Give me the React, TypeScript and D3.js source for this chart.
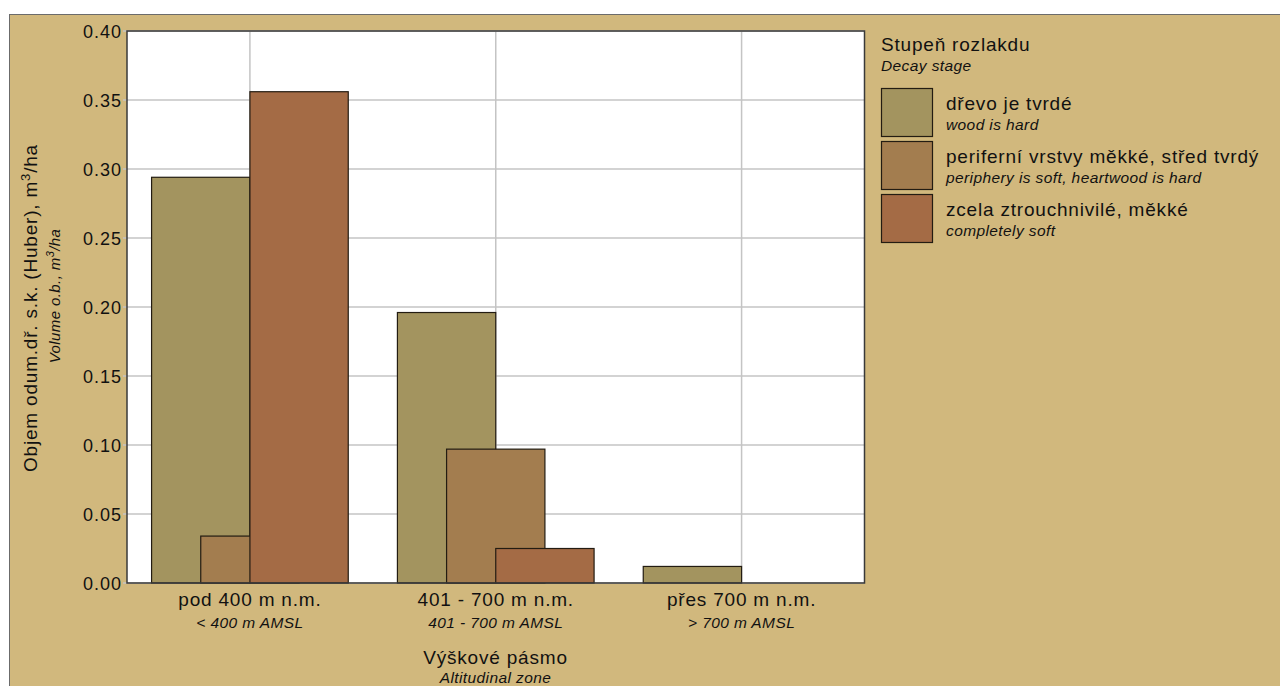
import React from "react";
import * as d3 from "d3";

const categories = ["pod 400 m n.m.", "401 - 700 m n.m.", "přes 700 m n.m."];
const categoriesEn = ["< 400 m AMSL", "401 - 700 m AMSL", "> 700 m AMSL"];
const seriesNames = ["dřevo je tvrdé", "periferní vrstvy měkké, střed tvrdý", "zcela ztrouchnivilé, měkké"];
const seriesNamesEn = ["wood is hard", "periphery is soft, heartwood is hard", "completely soft"];
const seriesColors = ["#A3945F", "#A37D4F", "#A46B45"];
const hardValues = [0.294, 0.196, 0.012];
const peripheryValues = [0.034, 0.097, 0];
const softValues = [0.356, 0.025, 0];
const yTicks = [0, 0.05, 0.1, 0.15, 0.2, 0.25, 0.3, 0.35, 0.4];

const seriesValues = [hardValues, peripheryValues, softValues];

const FONT = "'Liberation Sans', Arial, sans-serif";
const BG = "#D1B87D";

export default function App() {
  const plotL = 127, plotR = 864.5, plotT = 31, plotB = 583;
  const x = d3.scaleBand<string>().domain(categories).range([plotL, plotR]).padding(0);
  const y = d3.scaleLinear().domain([0, 0.4]).range([plotB, plotT]);
  const bw = x.bandwidth() * 0.4;
  const inner = d3.scaleLinear().domain([0, 2]).range([-bw, 0]);
  const center = (c: string) => (x(c) as number) + x.bandwidth() / 2;

  const mainStyle = { fontFamily: FONT, fontSize: 19, letterSpacing: 0.8, fill: "#111" } as const;
  const italStyle = { fontFamily: FONT, fontSize: 15.5, fontStyle: "italic", letterSpacing: 0.4, fill: "#111" } as const;

  const legX = 881, legTop = 88, legStep = 53;

  return (
    <svg width={1280} height={686} style={{ position: "absolute", left: 0, top: 0, background: "#fff" }}>
      <rect x={9.5} y={14.5} width={1280} height={680} fill={BG} stroke="#6b6b6b" strokeWidth={1} />
      {/* plot area */}
      <rect x={plotL} y={plotT} width={plotR - plotL} height={plotB - plotT} fill="#fff" />
      {/* horizontal grid */}
      {yTicks.map((t) => (
        <line key={"g" + t} x1={plotL - 4} x2={plotR} y1={y(t)} y2={y(t)} stroke="#c4c4c4" strokeWidth={1.5} />
      ))}
      {/* vertical grid */}
      {categories.map((c) => (
        <line key={"v" + c} x1={center(c)} x2={center(c)} y1={plotT} y2={plotB} stroke="#c4c4c4" strokeWidth={1.5} />
      ))}
      {/* bars */}
      {seriesValues.map((vals, si) =>
        categories.map((c, ci) =>
          vals[ci] > 0 ? (
            <rect
              key={si + "-" + ci}
              x={center(c) + inner(si)}
              y={y(vals[ci])}
              width={bw}
              height={y(0) - y(vals[ci])}
              fill={seriesColors[si]}
              stroke="#231c12"
              strokeWidth={1.2}
            />
          ) : null
        )
      )}
      {/* frame */}
      <rect x={plotL} y={plotT} width={plotR - plotL} height={plotB - plotT} fill="none" stroke="#3a3a3a" strokeWidth={1.5} />
      {/* y tick labels */}
      {yTicks.map((t) => (
        <text key={"t" + t} x={122} y={y(t) + 6.5} textAnchor="end" style={{ fontFamily: FONT, fontSize: 18, letterSpacing: 1, fill: "#111" }}>
          {d3.format(".2f")(t)}
        </text>
      ))}
      {/* y title */}
      <text transform="translate(37,308) rotate(-90)" textAnchor="middle" style={mainStyle}>
        Objem odum.dř. s.k. (Huber), m<tspan dy={-7} fontSize={13}>3</tspan><tspan dy={7}>/ha</tspan>
      </text>
      <text transform="translate(60,296) rotate(-90)" textAnchor="middle" style={{ ...italStyle, fontSize: 15 }}>
        Volume o.b., m<tspan dy={-6} fontSize={11}>3</tspan><tspan dy={6}>/ha</tspan>
      </text>
      {/* x labels */}
      {categories.map((c, i) => (
        <g key={"xl" + c}>
          <text x={center(c)} y={605.5} textAnchor="middle" style={mainStyle}>{c}</text>
          <text x={center(c)} y={627.5} textAnchor="middle" style={italStyle}>{categoriesEn[i]}</text>
        </g>
      ))}
      <text x={495.5} y={664} textAnchor="middle" style={mainStyle}>Výškové pásmo</text>
      <text x={495.5} y={682.5} textAnchor="middle" style={italStyle}>Altitudinal zone</text>
      {/* legend */}
      <text x={legX} y={50.5} style={mainStyle}>Stupeň rozlakdu</text>
      <text x={legX} y={71} style={italStyle}>Decay stage</text>
      {seriesNames.map((n, i) => (
        <g key={"lg" + i}>
          <rect x={legX + 0.5} y={legTop + i * legStep + 0.5} width={51} height={48} fill={seriesColors[i]} stroke="#231c12" strokeWidth={1.2} />
          <text x={946} y={110 + i * legStep} style={mainStyle}>{n}</text>
          <text x={946} y={129.5 + i * legStep} style={italStyle}>{seriesNamesEn[i]}</text>
        </g>
      ))}
    </svg>
  );
}
